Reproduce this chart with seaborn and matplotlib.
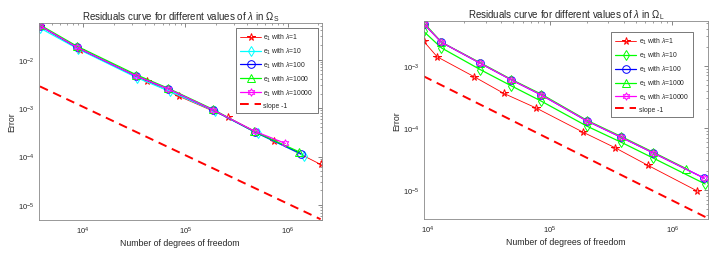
import numpy as np
import pandas as pd
import matplotlib
matplotlib.use("Agg")
import matplotlib.pyplot as plt
import seaborn as sns

# ---- left panel (Omega_S) ----
lam_labels = ["1", "10", "100", "1000", "10000"]

s_x_l1 = [3.8e3, 9.3e3, 4.2e4, 8.7e4, 2.6e5, 7.4e5, 2.1e6]
s_y_l1 = [0.050, 0.016, 3.7e-3, 1.75e-3, 6.4e-4, 2.1e-4, 6.9e-5]
s_x_l10 = [3.8e3, 9.0e3, 3.4e4, 7.1e4, 1.95e5, 5.1e5, 1.45e6]
s_y_l10 = [0.045, 0.0165, 4.2e-3, 2.2e-3, 8.6e-4, 3.0e-4, 1.05e-4]
s_x_l100 = [3.8e3, 8.7e3, 3.3e4, 6.8e4, 1.86e5, 4.8e5, 1.35e6]
s_y_l100 = [0.050, 0.018, 4.6e-3, 2.5e-3, 9.2e-4, 3.2e-4, 1.15e-4]
s_x_l1000 = [3.8e3, 8.7e3, 3.3e4, 6.7e4, 1.85e5, 4.7e5, 1.3e6]
s_y_l1000 = [0.052, 0.019, 4.9e-3, 2.6e-3, 9.5e-4, 3.3e-4, 1.25e-4]
s_x_l10000 = [3.8e3, 8.7e3, 3.3e4, 6.8e4, 1.86e5, 4.8e5, 9.5e5]
s_y_l10000 = [0.050, 0.018, 4.6e-3, 2.5e-3, 9.2e-4, 3.3e-4, 1.87e-4]
s_slope_x = [3.8e3, 2.1e6]
s_slope_y = [2.8e-3, 5.1e-6]

# ---- right panel (Omega_L) ----
l_x_l1 = [9.3e3, 1.2e4, 2.4e4, 4.2e4, 7.7e4, 1.85e5, 3.4e5, 6.3e5, 1.6e6]
l_y_l1 = [2.5e-3, 1.4e-3, 6.7e-4, 3.6e-4, 2.1e-4, 8.6e-5, 4.8e-5, 2.5e-5, 9.6e-6]
l_x_l10 = [9.3e3, 1.3e4, 2.7e4, 4.8e4, 8.5e4, 2.0e5, 3.8e5, 6.9e5, 1.85e6]
l_y_l10 = [3.6e-3, 1.95e-3, 8.7e-4, 4.8e-4, 2.7e-4, 1.07e-4, 5.9e-5, 3.3e-5, 1.25e-5]
l_x_l100 = [9.3e3, 1.3e4, 2.7e4, 4.8e4, 8.5e4, 2.0e5, 3.8e5, 6.9e5, 1.82e6]
l_y_l100 = [4.8e-3, 2.4e-3, 1.1e-3, 6.0e-4, 3.4e-4, 1.3e-4, 7.1e-5, 4.0e-5, 1.55e-5]
l_x_l1000 = [9.3e3, 1.3e4, 2.7e4, 4.8e4, 8.5e4, 2.0e5, 3.8e5, 6.9e5, 1.3e6]
l_y_l1000 = [5.0e-3, 2.4e-3, 1.12e-3, 6.1e-4, 3.5e-4, 1.33e-4, 7.3e-5, 4.1e-5, 2.2e-5]
l_x_l10000 = [9.3e3, 1.3e4, 2.7e4, 4.8e4, 8.5e4, 2.0e5, 3.8e5, 6.9e5, 1.82e6]
l_y_l10000 = [4.8e-3, 2.4e-3, 1.1e-3, 6.0e-4, 3.4e-4, 1.3e-4, 7.1e-5, 4.0e-5, 1.55e-5]
l_slope_x = [9.3e3, 1.95e6]
l_slope_y = [6.8e-4, 3.5e-6]

HEX = (6, 1, 0)  # six-pointed star, close to matlab hexagram


def draw_series(ax, xs, ys, color, marker, label, lw=0.9):
    df = pd.DataFrame({"x": xs, "y": ys})
    sns.lineplot(data=df, x="x", y="y", ax=ax, color=color, marker=marker,
                 markersize=5.5, markerfacecolor="none", markeredgecolor=color,
                 markeredgewidth=0.7, linewidth=lw, sort=False, estimator=None,
                 label=label)


def style_axes(ax, title, xlim, ylim, legend_anchor):
    ax.set_xscale("log")
    ax.set_yscale("log")
    ax.set_xlim(*xlim)
    ax.set_ylim(*ylim)
    ax.set_title(title, fontsize=7, pad=3)
    ax.set_xlabel("Number of degrees of freedom", fontsize=6.3, labelpad=2)
    ax.set_ylabel("Error", fontsize=6.3, labelpad=1)
    ax.tick_params(which="both", direction="in", top=True, right=True,
                   labelsize=5.5, color="#555555", pad=3)
    ax.tick_params(which="major", length=3, width=0.5)
    ax.tick_params(which="minor", length=1.5, width=0.4)
    for sp in ax.spines.values():
        sp.set_visible(True)
        sp.set_color("#888888")
        sp.set_linewidth(0.6)
    leg = ax.legend(loc="upper right", bbox_to_anchor=legend_anchor,
                    borderaxespad=0, fontsize=4.9, handlelength=3.0,
                    fancybox=False, framealpha=1, labelspacing=0.55,
                    borderpad=0.6, handletextpad=0.4)
    leg.get_frame().set_edgecolor("#444444")
    leg.get_frame().set_linewidth(0.5)


sns.set_style("white")
plt.rcParams["font.family"] = ["Liberation Sans", "DejaVu Sans"]
plt.rcParams["mathtext.fontset"] = "custom"
plt.rcParams["mathtext.rm"] = "Liberation Sans"
plt.rcParams["mathtext.it"] = "Liberation Sans:italic"

fig = plt.figure(figsize=(7.18, 2.55), dpi=100)
axL = fig.add_axes([0.054, 0.133, 0.394, 0.773])
axR = fig.add_axes([0.590, 0.137, 0.396, 0.777])

lab = [r"e$_1$ with $\lambda$=" + s for s in lam_labels]

draw_series(axL, s_x_l1, s_y_l1, "red", "*", lab[0], lw=0.6)
draw_series(axL, s_x_l10, s_y_l10, "cyan", "d", lab[1])
draw_series(axL, s_x_l100, s_y_l100, "blue", "o", lab[2])
draw_series(axL, s_x_l1000, s_y_l1000, "lime", "^", lab[3])
draw_series(axL, s_x_l10000, s_y_l10000, "magenta", HEX, lab[4])
sns.lineplot(x=s_slope_x, y=s_slope_y, ax=axL, color="red", linewidth=1.4,
             linestyle=(0, (4.5, 3)), label="slope -1")
style_axes(axL, r"Residuals curve for different values of $\lambda$ in $\Omega_\mathrm{S}$",
           (3.7e3, 2.15e6), (4.9e-6, 0.057), (0.986, 0.975))

draw_series(axR, l_x_l1, l_y_l1, "red", "*", lab[0], lw=0.6)
draw_series(axR, l_x_l10, l_y_l10, "lime", "d", lab[1])
draw_series(axR, l_x_l100, l_y_l100, "blue", "o", lab[2])
draw_series(axR, l_x_l1000, l_y_l1000, "lime", "^", lab[3])
draw_series(axR, l_x_l10000, l_y_l10000, "magenta", HEX, lab[4])
sns.lineplot(x=l_slope_x, y=l_slope_y, ax=axR, color="red", linewidth=1.4,
             linestyle=(0, (4.5, 3)), label="slope -1")
style_axes(axR, r"Residuals curve for different values of $\lambda$ in $\Omega_\mathrm{L}$",
           (9.3e3, 1.95e6), (3.4e-6, 5.3e-3), (0.947, 0.944))

fig.savefig("out.png", dpi=100)
